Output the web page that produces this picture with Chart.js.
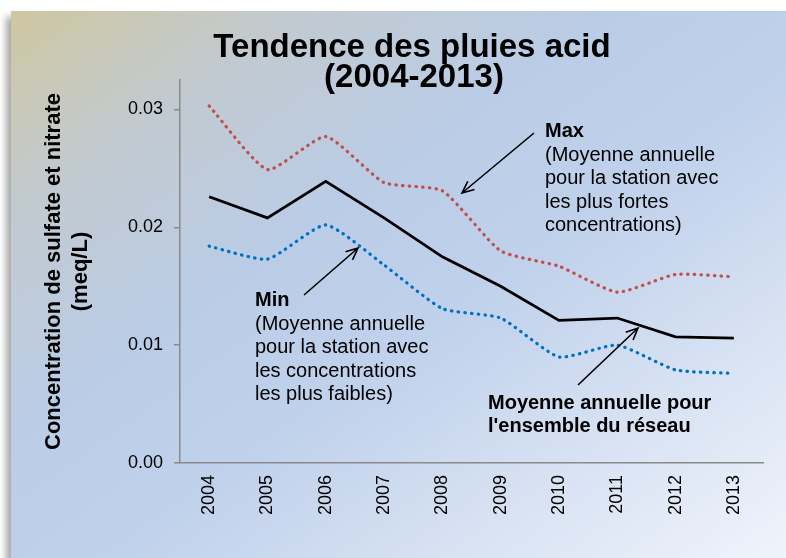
<!DOCTYPE html>
<html>
<head>
<meta charset="utf-8">
<script src="https://cdn.jsdelivr.net/npm/chart.js@4.4.1/dist/chart.umd.min.js"></script>
<style>
html,body{margin:0;padding:0;background:#fff;width:786px;height:558px;overflow:hidden;}
#panel{position:absolute;left:11px;top:11px;width:790px;height:560px;
  background:linear-gradient(to bottom right, rgb(207,199,160) 0%, rgb(194,202,208) 18%, rgb(186,204,230) 38%, rgb(192,209,235) 55%, rgb(242,245,252) 100%);
  box-shadow:-5px 6px 7px rgba(0,0,0,0.35);}
#wrap{position:absolute;left:0;top:0;width:786px;height:558px;}
</style>
</head>
<body>
<div id="panel"></div>
<div id="wrap"><canvas id="c" width="786" height="558"></canvas></div>
<script>
// ---- data ----
const years = ['2004','2005','2006','2007','2008','2009','2010','2011','2012','2013'];
const maxValues  = [0.0303, 0.0249, 0.0277, 0.0238, 0.0231, 0.0180, 0.0167, 0.0145, 0.0160, 0.0158];
const meanValues = [0.0226, 0.0208, 0.0239, 0.0208, 0.0175, 0.0150, 0.0121, 0.0123, 0.0107, 0.0106];
const minValues  = [0.0184, 0.0173, 0.0202, 0.0168, 0.0131, 0.0123, 0.0090, 0.0100, 0.0079, 0.0076];
const yTickValues = [0.00, 0.01, 0.02, 0.03];

// ---- texts ----
const titleLines = ['Tendence des pluies acid', '(2004-2013)'];
const yTitleLines = ['Concentration de sulfate et nitrate', '(meq/L)'];
const maxLabel = ['Max', '(Moyenne annuelle', 'pour la station avec', 'les plus fortes', 'concentrations)'];
const minLabel = ['Min', '(Moyenne annuelle', 'pour la station avec', 'les concentrations', 'les plus faibles)'];
const meanLabel = ['Moyenne annuelle pour', "l'ensemble du réseau"];

const FONT = "'Liberation Sans', Arial, sans-serif";
Chart.defaults.font.family = FONT;
Chart.defaults.color = '#000';

function arrow(ctx, x1, y1, x2, y2) {
  const a = Math.atan2(y2 - y1, x2 - x1), L = 13, s = 0.42;
  ctx.beginPath();
  ctx.moveTo(x1, y1); ctx.lineTo(x2, y2);
  ctx.moveTo(x2 - L * Math.cos(a - s), y2 - L * Math.sin(a - s));
  ctx.lineTo(x2, y2);
  ctx.lineTo(x2 - L * Math.cos(a + s), y2 - L * Math.sin(a + s));
  ctx.stroke();
}

function block(ctx, lines, x, y0, step, boldFirst, allBold) {
  lines.forEach((t, i) => {
    const bold = allBold || (boldFirst && i === 0);
    ctx.font = (bold ? 'bold ' : '') + '20px ' + FONT;
    ctx.fillText(t, x, y0 + i * step);
  });
}

const annot = {
  id: 'annot',
  afterDraw(chart) {
    const ctx = chart.ctx;
    ctx.save();
    ctx.fillStyle = '#000';
    ctx.textBaseline = 'alphabetic';
    ctx.textAlign = 'center';
    ctx.font = 'bold 33px ' + FONT;
    ctx.fillText(titleLines[0], 412, 57);
    ctx.fillText(titleLines[1], 414, 87);
    ctx.textAlign = 'left';
    block(ctx, maxLabel, 545, 137, 23.5, true, false);
    block(ctx, minLabel, 255, 306, 23.5, true, false);
    block(ctx, meanLabel, 488, 409, 23, false, true);
    ctx.strokeStyle = '#000';
    ctx.lineWidth = 1.6;
    arrow(ctx, 534, 133, 462, 193);
    arrow(ctx, 304, 295, 358, 248);
    arrow(ctx, 578, 385, 638, 328);
    ctx.restore();
  }
};

const dotted = {borderDash: [0.5, 6.2], borderCapStyle: 'round', borderWidth: 3.2, tension: 0.18};

new Chart(document.getElementById('c'), {
  type: 'line',
  data: {
    labels: years,
    datasets: [
      Object.assign({label: 'Max', data: maxValues, borderColor: '#C0504D'}, dotted),
      Object.assign({label: 'Min', data: minValues, borderColor: '#0070C0'}, dotted),
      {label: 'Moyenne', data: meanValues, borderColor: '#000', borderWidth: 2.75, tension: 0, borderJoinStyle: 'miter'}
    ]
  },
  options: {
    responsive: false,
    animation: false,
    events: [],
    layout: {padding: {left: 40, right: 23, top: 80, bottom: 0}},
    elements: {point: {radius: 0}},
    plugins: {legend: {display: false}, tooltip: {enabled: false}, title: {display: false}},
    scales: {
      x: {
        type: 'category',
        offset: true,
        grid: {display: false, drawTicks: false},
        border: {display: true, color: '#8a8a8a', width: 1.5},
        ticks: {autoSkip: false, minRotation: 90, maxRotation: 90, padding: 12, font: {size: 18}, color: '#000'},
        afterFit(s) { s.height = 95; }
      },
      y: {
        min: 0,
        max: 0.0325,
        grid: {display: true, drawOnChartArea: false, drawTicks: true, tickLength: 6, color: '#8a8a8a', lineWidth: 1.5},
        border: {display: true, color: '#8a8a8a', width: 1.5},
        afterBuildTicks(s) { s.ticks = yTickValues.map(v => ({value: v})); },
        ticks: {padding: 11, font: {size: 18}, color: '#000', callback: v => Number(v).toFixed(2)},
        title: {display: true, text: yTitleLines, font: {size: 22, weight: 'bold', lineHeight: 1.23}, padding: 0, color: '#000'},
        afterFit(s) { s.width = 140; }
      }
    }
  },
  plugins: [annot]
});
</script>
</body>
</html>
